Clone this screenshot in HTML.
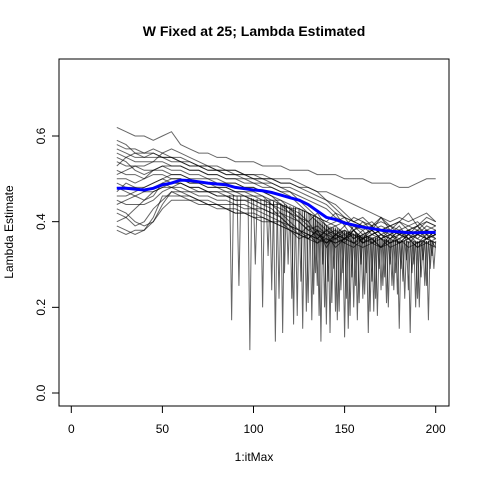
<!DOCTYPE html>
<html><head><meta charset="utf-8"><style>
html,body{margin:0;padding:0;background:#fff;}
svg{display:block;font-family:"Liberation Sans",Arial,sans-serif;}
</style></head><body>
<svg id="chart" width="480" height="480" viewBox="0 0 480 480">
<rect width="480" height="480" fill="#fff"/>
<text x="254" y="36" text-anchor="middle" font-size="14" font-weight="bold">W Fixed at 25; Lambda Estimated</text>
<text x="254" y="461" text-anchor="middle" font-size="12">1:itMax</text>
<text transform="translate(13,232) rotate(-90)" text-anchor="middle" font-size="12">Lambda Estimate</text>
<rect x="59" y="59" width="390" height="347" fill="none" stroke="#000" stroke-width="1"/>
<g id="axes"></g>
<g id="series"></g>
<g id="mean"></g>
</svg>
<script>
const xTicks=[0,50,100,150,200];
const yTicks=[0.0,0.2,0.4,0.6];
const yTickLabels=["0.0","0.2","0.4","0.6"];
const iterX=[25,30,35,40,45,50,55,60,65,70,75,80,85,90,95,100,105,110,115,120,125,130,135,140,145,150,155,160,165,170,175,180,185,190,195,200];
const s1=[0.62,0.61,0.60,0.60,0.59,0.60,0.61,0.58,0.57,0.56,0.56,0.55,0.55,0.54,0.54,0.54,0.53,0.53,0.53,0.52,0.52,0.52,0.51,0.51,0.51,0.50,0.50,0.50,0.49,0.49,0.49,0.48,0.48,0.49,0.50,0.50];
const s2=[0.58,0.57,0.57,0.56,0.56,0.55,0.55,0.54,0.54,0.53,0.53,0.52,0.52,0.51,0.51,0.50,0.50,0.49,0.48,0.47,0.45,0.43,0.41,0.40,0.39,0.40,0.38,0.39,0.37,0.38,0.39,0.37,0.38,0.36,0.38,0.37];
const s3=[0.54,0.53,0.53,0.52,0.52,0.52,0.51,0.51,0.50,0.50,0.50,0.49,0.49,0.49,0.48,0.48,0.47,0.46,0.44,0.42,0.40,0.38,0.39,0.37,0.38,0.36,0.39,0.37,0.38,0.36,0.37,0.38,0.36,0.37,0.38,0.36];
const s4=[0.50,0.50,0.49,0.50,0.51,0.51,0.50,0.50,0.49,0.49,0.48,0.48,0.48,0.47,0.47,0.47,0.46,0.44,0.42,0.40,0.38,0.36,0.38,0.35,0.37,0.39,0.36,0.38,0.35,0.37,0.36,0.38,0.35,0.37,0.36,0.38];
const s5=[0.46,0.46,0.47,0.48,0.49,0.50,0.49,0.49,0.48,0.48,0.47,0.47,0.46,0.46,0.46,0.45,0.44,0.43,0.41,0.39,0.37,0.39,0.36,0.38,0.37,0.35,0.38,0.36,0.39,0.37,0.36,0.38,0.37,0.39,0.36,0.37];
const s6=[0.42,0.41,0.43,0.45,0.47,0.48,0.48,0.47,0.47,0.46,0.46,0.45,0.45,0.44,0.44,0.43,0.42,0.41,0.40,0.38,0.37,0.36,0.38,0.34,0.37,0.36,0.38,0.35,0.37,0.36,0.38,0.35,0.37,0.38,0.36,0.37];
const s7=[0.39,0.38,0.37,0.38,0.41,0.46,0.46,0.46,0.45,0.45,0.44,0.44,0.43,0.43,0.42,0.42,0.41,0.40,0.39,0.38,0.36,0.37,0.35,0.37,0.34,0.36,0.38,0.35,0.36,0.37,0.35,0.37,0.36,0.35,0.37,0.34];
const s8=[0.52,0.51,0.51,0.50,0.52,0.53,0.52,0.52,0.51,0.51,0.50,0.50,0.49,0.49,0.48,0.48,0.47,0.46,0.45,0.43,0.41,0.40,0.42,0.39,0.40,0.41,0.38,0.40,0.39,0.41,0.38,0.40,0.39,0.38,0.40,0.39];
const s9=[0.44,0.45,0.46,0.47,0.48,0.49,0.48,0.48,0.47,0.47,0.47,0.46,0.46,0.45,0.45,0.44,0.43,0.42,0.41,0.39,0.38,0.37,0.36,0.38,0.36,0.37,0.35,0.36,0.38,0.36,0.35,0.36,0.37,0.35,0.36,0.38];
const s10=[0.56,0.55,0.54,0.54,0.54,0.54,0.53,0.53,0.52,0.52,0.51,0.51,0.50,0.50,0.50,0.49,0.49,0.48,0.47,0.46,0.44,0.42,0.41,0.40,0.42,0.39,0.41,0.40,0.38,0.41,0.39,0.40,0.42,0.39,0.41,0.40];
const s11=[0.48,0.47,0.46,0.45,0.46,0.49,0.50,0.50,0.49,0.49,0.48,0.48,0.47,0.47,0.46,0.46,0.45,0.45,0.44,0.43,0.42,0.40,0.37,0.36,0.35,0.36,0.37,0.35,0.36,0.34,0.36,0.35,0.37,0.36,0.35,0.36];
const s12=[0.59,0.58,0.56,0.56,0.57,0.56,0.55,0.55,0.54,0.53,0.53,0.52,0.52,0.52,0.51,0.51,0.51,0.50,0.50,0.50,0.49,0.48,0.47,0.45,0.43,0.41,0.40,0.39,0.38,0.39,0.38,0.37,0.38,0.39,0.37,0.38];
const s13=[0.40,0.41,0.39,0.40,0.43,0.45,0.47,0.46,0.46,0.45,0.44,0.44,0.43,0.42,0.42,0.41,0.41,0.40,0.40,0.39,0.38,0.37,0.36,0.35,0.36,0.35,0.34,0.36,0.35,0.34,0.35,0.36,0.34,0.35,0.36,0.35];
const s14=[0.51,0.52,0.53,0.53,0.54,0.56,0.57,0.56,0.55,0.54,0.53,0.53,0.52,0.52,0.51,0.51,0.50,0.50,0.49,0.49,0.48,0.48,0.47,0.47,0.46,0.45,0.44,0.43,0.42,0.41,0.40,0.41,0.40,0.41,0.42,0.40];
const s15=[0.47,0.49,0.48,0.47,0.47,0.48,0.49,0.49,0.48,0.48,0.47,0.47,0.47,0.46,0.46,0.45,0.45,0.44,0.44,0.43,0.43,0.42,0.41,0.39,0.37,0.38,0.36,0.37,0.38,0.36,0.37,0.39,0.36,0.37,0.38,0.37];
const s16=[0.53,0.55,0.56,0.55,0.55,0.55,0.54,0.54,0.53,0.53,0.52,0.52,0.51,0.51,0.51,0.50,0.50,0.50,0.49,0.49,0.48,0.47,0.46,0.45,0.44,0.42,0.40,0.39,0.40,0.38,0.39,0.40,0.38,0.39,0.40,0.39];
const s17=[0.43,0.42,0.40,0.39,0.40,0.44,0.47,0.47,0.46,0.45,0.45,0.44,0.44,0.44,0.43,0.43,0.43,0.42,0.42,0.41,0.40,0.38,0.37,0.35,0.37,0.36,0.35,0.37,0.36,0.34,0.37,0.35,0.36,0.34,0.36,0.35];
const s18=[0.45,0.44,0.44,0.44,0.45,0.47,0.48,0.49,0.48,0.47,0.47,0.46,0.46,0.45,0.45,0.45,0.44,0.44,0.43,0.42,0.41,0.39,0.38,0.37,0.36,0.38,0.37,0.36,0.37,0.38,0.36,0.37,0.36,0.38,0.37,0.36];
const s19=[0.57,0.56,0.55,0.55,0.56,0.55,0.55,0.54,0.53,0.53,0.52,0.52,0.51,0.51,0.50,0.50,0.49,0.49,0.48,0.48,0.47,0.46,0.45,0.44,0.42,0.41,0.40,0.41,0.39,0.40,0.39,0.38,0.39,0.40,0.38,0.39];
const s20=[0.49,0.48,0.48,0.48,0.49,0.50,0.51,0.51,0.50,0.49,0.49,0.48,0.48,0.47,0.47,0.46,0.46,0.45,0.45,0.44,0.43,0.42,0.40,0.38,0.39,0.37,0.38,0.36,0.37,0.38,0.37,0.36,0.38,0.37,0.36,0.37];
const s21=[0.38,0.37,0.38,0.38,0.40,0.43,0.45,0.45,0.45,0.44,0.44,0.43,0.43,0.42,0.42,0.41,0.40,0.40,0.39,0.38,0.37,0.36,0.35,0.36,0.35,0.36,0.35,0.34,0.35,0.36,0.34,0.35,0.36,0.34,0.35,0.34];
const s22=[0.55,0.54,0.52,0.51,0.52,0.53,0.53,0.53,0.52,0.52,0.51,0.51,0.50,0.50,0.49,0.49,0.48,0.48,0.47,0.47,0.46,0.45,0.44,0.43,0.41,0.40,0.39,0.38,0.39,0.37,0.38,0.37,0.38,0.37,0.39,0.38];
const allSeries=[s1,s2,s3,s4,s5,s6,s7,s8,s9,s10,s11,s12,s13,s14,s15,s16,s17,s18,s19,s20,s21,s22];
const meanX=[25,30,35,40,45,50,55,60,65,70,75,80,85,90,95,100,105,110,115,120,125,130,135,140,145,150,155,160,165,170,175,180,185,190,195,200];
const meanY=[0.478,0.478,0.476,0.474,0.478,0.486,0.490,0.497,0.496,0.493,0.490,0.488,0.486,0.480,0.477,0.474,0.472,0.468,0.462,0.456,0.450,0.440,0.425,0.410,0.405,0.397,0.392,0.387,0.384,0.380,0.378,0.376,0.374,0.374,0.375,0.375];
const spikeX=[88,92,98,101,105,108,112,114,116,119,122,124,127,130,132,135,137,139,142,145,147,150,152,155,157,160,163,166,168,171,174,177,180,183,186,189,191,194,196,199,
  110,117,121,126,129,133,134,136,138,140,141,143,144,146,148,149,151,153,154,156,158,159,161,162,164,165,167,169,170,172,173,175,176,178,179,181,182,184,185,187,188,190,192,193,195,197,198];
const spikeLow=[0.17,0.25,0.10,0.30,0.20,0.32,0.12,0.22,0.14,0.30,0.16,0.18,0.15,0.21,0.17,0.25,0.12,0.20,0.14,0.19,0.19,0.13,0.15,0.20,0.17,0.22,0.14,0.19,0.18,0.25,0.20,0.24,0.15,0.22,0.14,0.20,0.20,0.25,0.17,0.29,
  0.24,0.28,0.22,0.26,0.19,0.23,0.28,0.18,0.30,0.16,0.26,0.21,0.29,0.17,0.24,0.28,0.22,0.18,0.27,0.25,0.21,0.30,0.23,0.28,0.19,0.26,0.22,0.29,0.24,0.27,0.21,0.30,0.25,0.28,0.23,0.29,0.26,0.31,0.24,0.28,0.30,0.22,0.27,0.31,0.25,0.29,0.32];

const NS="http://www.w3.org/2000/svg";
const X=v=>71.3+(v-0)*(435.7-71.3)/200;
const Y=v=>393-v*(393-136)/0.6;
function mk(tag,attrs,parent){const e=document.createElementNS(NS,tag);for(const k in attrs)e.setAttribute(k,attrs[k]);parent.appendChild(e);return e;}
const axes=document.getElementById('axes');
xTicks.forEach(t=>{
  const l=mk('line',{x1:X(t),x2:X(t),y1:406,y2:413,stroke:'#000'},axes);
  
  
  const tx=mk('text',{x:X(t),y:433,'text-anchor':'middle','font-size':12},axes);
  tx.textContent=t;
  
  
});
yTicks.forEach((t,i)=>{
  const l=mk('line',{x1:52,x2:59,y1:Y(t),y2:Y(t),stroke:'#000'},axes);
  
  
  const tx=mk('text',{transform:`translate(45,${Y(t)}) rotate(-90)`,'text-anchor':'middle','font-size':12},axes);
  tx.textContent=yTickLabels[i];
  
  
});
const sg=document.getElementById('series');
allSeries.forEach((s,i)=>{
  const d=s.map((v,j)=>(j?'L':'M')+X(iterX[j]).toFixed(1)+' '+Y(v).toFixed(1)).join(' ');
  const p=mk('path',{d:d,fill:'none',stroke:'rgba(0,0,0,0.6)','stroke-width':1},sg);
  
  
});
function meanAt(x){for(let j=1;j<meanX.length;j++){if(x<=meanX[j]){const f=(x-meanX[j-1])/(meanX[j]-meanX[j-1]);return meanY[j-1]+f*(meanY[j]-meanY[j-1]);}}return meanY[meanY.length-1];}
spikeX.forEach((x,i)=>{
  const b=meanAt(x)-0.02;
  const d=`M${X(x-1)} ${Y(b)} L${X(x)} ${Y(spikeLow[i])} L${X(x+1)} ${Y(b)}`;
  const p=mk('path',{d:d,fill:'none',stroke:'rgba(0,0,0,0.6)','stroke-width':1},sg);
  
  
});
const mp=mk('path',{d:meanY.map((v,j)=>(j?'L':'M')+X(meanX[j]).toFixed(1)+' '+Y(v).toFixed(1)).join(' '),fill:'none',stroke:'#0000ff','stroke-width':3},document.getElementById('mean'));


</script>
</body></html>
